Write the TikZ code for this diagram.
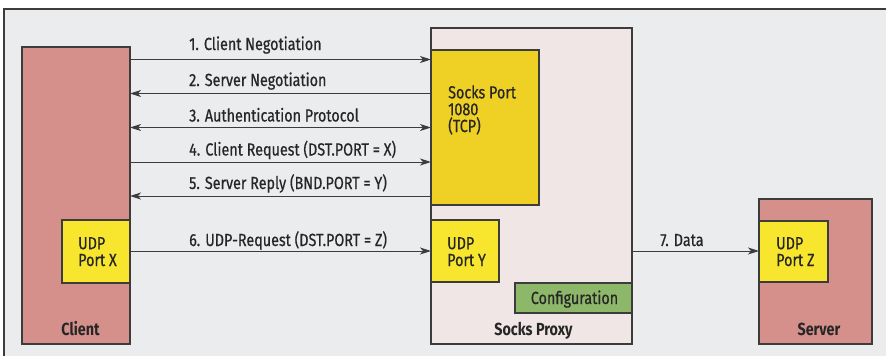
\documentclass[tikz,border=0pt]{standalone}
\usepackage{fontspec}
\setmainfont[FakeStretch=0.82, FakeBold=0.6, BoldFeatures={FakeStretch=0.82, FakeBold=0}]{Fira Sans}
\usetikzlibrary{arrows.meta}
\definecolor{bgc}{HTML}{EBECEE}
\definecolor{pinkc}{HTML}{D6908C}
\definecolor{proxyc}{HTML}{F1E6E6}
\definecolor{socksc}{HTML}{EFD024}
\definecolor{udpc}{HTML}{F7E52E}
\definecolor{confc}{HTML}{8DB86A}
\definecolor{linec}{HTML}{3C3C3C}
\definecolor{txtc}{HTML}{262626}
\tikzset{
  box/.style={draw=linec, line width=1.1pt, anchor=north west, inner sep=0pt, outer sep=0pt},
  conn/.style={draw=linec, line width=1pt},
  tip/.style={-{Stealth[length=11pt,width=7pt,inset=3pt]}},
  lbl/.style={anchor=base west, inner sep=0pt, text=txtc, font=\fontsize{17.5}{17}\selectfont},
  ttl/.style={anchor=base, inner sep=0pt, text=txtc, font=\fontsize{17.5}{17}\selectfont\bfseries},
  inl/.style={anchor=base west, inner sep=0pt, text=txtc, align=left, font=\fontsize{17.5}{16.8}\selectfont}
}
\begin{document}
\begin{tikzpicture}[x=1pt,y=-1pt]
\useasboundingbox (0,0) rectangle (886,356);
\fill[bgc] (4,9) rectangle (886,356);
\draw[linec, line width=1.2pt] (4,356) -- (4,9) -- (886,9);

% boxes
\node[box, fill=pinkc, minimum width=108, minimum height=297] (client) at (22,47) {};
\node[box, fill=udpc, minimum width=68, minimum height=63] (udpx) at (62,220) {};
\node[box, fill=proxyc, minimum width=201, minimum height=316] (proxy) at (431,28) {};
\node[box, fill=socksc, minimum width=108, minimum height=155] (socks) at (431,50) {};
\node[box, fill=udpc, minimum width=68, minimum height=62] (udpy) at (431,220) {};
\node[box, fill=confc, minimum width=117, minimum height=30] (conf) at (515,283) {};
\node[box, fill=pinkc, minimum width=113, minimum height=145] (server) at (759,199) {};
\node[box, fill=udpc, minimum width=69, minimum height=61] (udpz) at (759,221) {};

% inner texts (base = last line)
\node[inl] (tsocks) at (448,132) {Socks Port\\1080\\(TCP)};
\node[inl] (tudpx) at (78,266) {UDP\\Port X};
\node[inl] (tudpy) at (447,266) {UDP\\Port Y};
\node[inl] (tudpz) at (776,266) {UDP\\Port Z};
\node[lbl, anchor=base] (tconf) at (574.5,304) {Configuration};
\node[ttl] (tclient) at (80.5,335) {Client};
\node[ttl] (tproxy) at (533.5,335) {Socks Proxy};
\node[ttl] (tserver) at (819,335) {Server};

% connectors
\draw[conn, tip] (client.east |- 0,59.5) -- (socks.west |- 0,59.5);
\draw[conn, tip] (socks.west |- 0,93.5) -- (client.east |- 0,93.5);
\draw[conn, {Stealth[length=11pt,width=7pt,inset=3pt]}-{Stealth[length=11pt,width=7pt,inset=3pt]}] (client.east |- 0,127.5) -- (socks.west |- 0,127.5);
\draw[conn, tip] (client.east |- 0,162) -- (socks.west |- 0,162);
\draw[conn, tip] (socks.west |- 0,196) -- (client.east |- 0,196);
\draw[conn, tip] (udpx.east |- 0,251) -- (udpy.west |- 0,251);
\draw[conn, tip] (proxy.east |- 0,251) -- (udpz.west |- 0,251);

% labels
\node[lbl] (l1) at (189,50) {1. Client Negotiation};
\node[lbl] (l2) at (189,86) {2. Server Negotiation};
\node[lbl] (l3) at (189,121.5) {3. Authentication Protocol};
\node[lbl] (l4) at (189,155.5) {4. Client Request (DST.PORT = X)};
\node[lbl] (l5) at (189,189) {5. Server Reply (BND.PORT = Y)};
\node[lbl] (l6) at (189,246) {6. UDP-Request (DST.PORT = Z)};
\node[lbl] (l7) at (660,246) {7. Data};
\end{tikzpicture}
\end{document}
